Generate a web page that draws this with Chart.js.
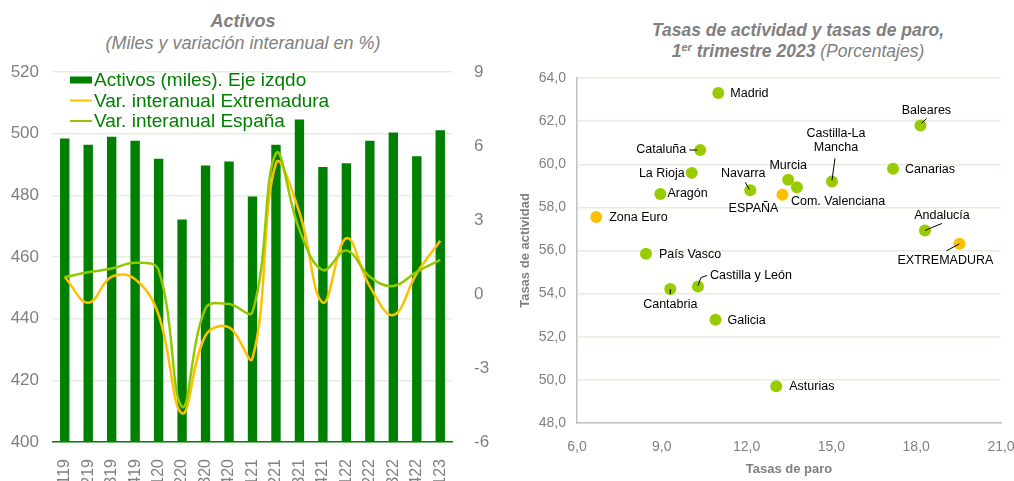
<!DOCTYPE html>
<html>
<head>
<meta charset="utf-8">
<script src="https://cdn.jsdelivr.net/npm/chart.js@4/dist/chart.umd.min.js"></script>
<style>
  html, body { margin: 0; padding: 0; background: #fff; width: 1014px; height: 481px; overflow: hidden; position: relative; font-family: "Liberation Sans", Arial, sans-serif; }
  canvas { position: absolute; top: 0; }
  #leftChart { left: 0; }
  #rightChart { left: 505px; }
  .title { position: absolute; text-align: center; color: #808080; font-style: italic; }
  #leftTitle { left: 0; top: 10px; width: 486px; font-size: 18px; line-height: 22px; }
  #rightTitle { left: 598px; top: 20px; width: 400px; font-size: 17.5px; line-height: 21px; }
  sup { font-size: 11px; line-height: 0; vertical-align: 6px; }
</style>
</head>
<body>
<div class="title" id="leftTitle"><b>Activos</b><br>(Miles y variación interanual en %)</div>
<div class="title" id="rightTitle"><b>Tasas de actividad y tasas de paro,</b><br><b>1<sup>er</sup> trimestre 2023</b> (Porcentajes)</div>
<canvas id="leftChart" width="500" height="481"></canvas>
<canvas id="rightChart" width="530" height="481"></canvas>
<script>
// ---- Activos (left chart) ----
const trimestres = ['T119', 'T219', 'T319', 'T419', 'T120', 'T220', 'T320', 'T420', 'T121',
                    'T221', 'T321', 'T421', 'T122', 'T222', 'T322', 'T422', 'T123'];
const activosMiles = [498.4, 496.4, 499.0, 497.7, 491.9, 472.2, 489.7, 491.0, 479.6,
                      496.4, 504.6, 489.2, 490.4, 497.7, 500.4, 492.7, 501.1];
const varExtremadura = [0.69, -0.35, 0.7, 0.6, -0.85, -4.84, -1.68, -1.35, -2.6,
                        5.3, 3.3, -0.35, 2.26, 0.3, -0.85, 0.84, 2.16];
const varEspana = [0.69, 0.88, 1.03, 1.27, 0.97, -4.57, -0.58, -0.41, -0.72,
                   5.7, 2.6, 0.97, 1.76, 0.7, 0.32, 0.9, 1.38];

// ---- Tasas (right chart) ----
const regiones = ['Madrid', 'Baleares', 'Cataluña', 'Canarias', 'La Rioja', 'Murcia',
                  'Com. Valenciana', 'Castilla-La Mancha', 'Navarra', 'Aragón', 'ESPAÑA',
                  'Zona Euro', 'Andalucía', 'EXTREMADURA', 'País Vasco', 'Castilla y León',
                  'Cantabria', 'Galicia', 'Asturias'];
const tasaParo = [11.0, 18.15, 10.36, 17.18, 10.06, 13.47, 13.78, 15.02, 12.13, 8.95, 13.27,
                  6.68, 18.31, 19.53, 8.44, 10.28, 9.3, 10.9, 13.05];
const tasaActividad = [63.3, 61.8, 60.66, 59.79, 59.6, 59.28, 58.93, 59.2, 58.79, 58.62, 58.59,
                       57.55, 56.93, 56.31, 55.85, 54.33, 54.21, 52.79, 49.7];
const destacados = ['ESPAÑA', 'Zona Euro', 'EXTREMADURA'];

const GRAY = '#808080';
const GRID = '#e3efe0';
const FONT = '"Liberation Sans", Arial, sans-serif';

Chart.defaults.font.family = FONT;

// legend drawn inside the plot area, like the original
const insideLegend = {
    id: 'insideLegend',
    afterDraw(chart) {
        const ctx = chart.ctx;
        const x0 = chart.chartArea.left + 17;
        const y0 = chart.chartArea.top + 8;
        ctx.save();
        ctx.font = '19px ' + FONT;
        ctx.textBaseline = 'middle';
        chart.data.datasets.forEach((ds, i) => {
            const y = y0 + i * 20.5;
            if (ds.type === 'bar') {
                ctx.fillStyle = ds.backgroundColor;
                ctx.fillRect(x0, y - 3.5, 22, 7);
            } else {
                ctx.strokeStyle = ds.borderColor;
                ctx.lineWidth = 2;
                ctx.beginPath();
                ctx.moveTo(x0, y);
                ctx.lineTo(x0 + 22, y);
                ctx.stroke();
            }
            ctx.fillStyle = '#008000';
            ctx.fillText(ds.label, x0 + 24, y + 1);
        });
        ctx.restore();
    }
};

new Chart(document.getElementById('leftChart'), {
    data: {
        labels: trimestres,
        datasets: [
            {
                type: 'bar',
                label: 'Activos (miles). Eje izqdo',
                data: activosMiles,
                backgroundColor: '#008000',
                barPercentage: 0.4,
                categoryPercentage: 1,
                yAxisID: 'y',
                order: 2
            },
            {
                type: 'line',
                label: 'Var. interanual Extremadura',
                data: varExtremadura,
                borderColor: '#ffc000',
                borderWidth: 2.5,
                pointRadius: 0,
                tension: 0.4,
                yAxisID: 'y1',
                order: 1
            },
            {
                type: 'line',
                label: 'Var. interanual España',
                data: varEspana,
                borderColor: '#92c800',
                borderWidth: 2.5,
                pointRadius: 0,
                tension: 0.4,
                yAxisID: 'y1',
                order: 0
            }
        ]
    },
    options: {
        responsive: false,
        animation: false,
        devicePixelRatio: 1,
        layout: { padding: { top: 72, left: 0, right: 0, bottom: 0 } },
        plugins: { legend: { display: false }, tooltip: { enabled: false } },
        scales: {
            x: {
                grid: { display: false },
                border: { color: '#008000', width: 1.5 },
                ticks: {
                    color: GRAY,
                    font: { size: 16 },
                    minRotation: 90,
                    maxRotation: 90,
                    autoSkip: false,
                    padding: 9
                },
                afterFit: s => { s.height = 39; }
            },
            y: {
                position: 'left',
                min: 400,
                max: 520,
                ticks: { stepSize: 20, color: GRAY, font: { size: 17 }, padding: 14 },
                grid: { color: GRID, lineWidth: 1.5, drawTicks: false },
                border: { display: false },
                afterFit: s => { s.width = 53; }
            },
            y1: {
                position: 'right',
                min: -6,
                max: 9,
                ticks: { stepSize: 3, color: GRAY, font: { size: 17 }, padding: 14 },
                grid: { display: false },
                border: { display: false },
                afterFit: s => { s.width = 48; }
            }
        }
    },
    plugins: [insideLegend]
});

// where each region's label sits relative to its point
const etiquetas = {
    'Madrid': { dx: 12, dy: 0, align: 'left' },
    'Baleares': { dx: 6, dy: -15, align: 'center', lead: [[1, -2], [6, -7]] },
    'Cataluña': { dx: -14, dy: 0, align: 'right', lead: [[-11, 0], [-3, 0]] },
    'Canarias': { dx: 12, dy: 0.5, align: 'left' },
    'La Rioja': { dx: -7, dy: 1, align: 'right' },
    'Murcia': { dx: 0, dy: -14, align: 'center' },
    'Com. Valenciana': { dx: -6, dy: 14, align: 'left' },
    'Castilla-La Mancha': { dx: 4, dy: -47.5, align: 'center', lines: ['Castilla-La', 'Mancha'], lead: [[3, -23], [0, -1]] },
    'Navarra': { dx: -7, dy: -17, align: 'center', lead: [[-5, -8], [-1, -1]] },
    'Aragón': { dx: 7, dy: 0, align: 'left' },
    'ESPAÑA': { dx: -29, dy: 14, align: 'center' },
    'Zona Euro': { dx: 13, dy: 0, align: 'left' },
    'Andalucía': { dx: 17, dy: -15, align: 'center', lead: [[0, 0], [17, -7]] },
    'EXTREMADURA': { dx: -14, dy: 17, align: 'center', lead: [[-13, 7], [0, 0]] },
    'País Vasco': { dx: 13, dy: 0.5, align: 'left' },
    'Castilla y León': { dx: 12, dy: -11, align: 'left', lead: [[0, -1], [3, -9], [9, -11]] },
    'Cantabria': { dx: 0, dy: 15, align: 'center', lead: [[0, 0], [0, 5]] },
    'Galicia': { dx: 12, dy: 0.5, align: 'left' },
    'Asturias': { dx: 13, dy: 0, align: 'left' }
};

const pointLabels = {
    id: 'pointLabels',
    afterDatasetsDraw(chart) {
        const ctx = chart.ctx;
        const meta = chart.getDatasetMeta(0);
        ctx.save();
        ctx.font = '12.5px ' + FONT;
        ctx.fillStyle = '#000';
        ctx.strokeStyle = '#000';
        ctx.lineWidth = 1;
        ctx.textBaseline = 'middle';
        meta.data.forEach((pt, i) => {
            const name = regiones[i];
            const e = etiquetas[name];
            if (!e) return;
            if (e.lead) {
                ctx.beginPath();
                e.lead.forEach((p, k) => {
                    if (k === 0) ctx.moveTo(pt.x + p[0], pt.y + p[1]);
                    else ctx.lineTo(pt.x + p[0], pt.y + p[1]);
                });
                ctx.stroke();
            }
            ctx.textAlign = e.align;
            const lines = e.lines || [name];
            lines.forEach((t, k) => {
                ctx.fillText(t, pt.x + e.dx, pt.y + e.dy + k * 13.3);
            });
        });
        ctx.restore();
    }
};

const coma = v => v.toFixed(1).replace('.', ',');

new Chart(document.getElementById('rightChart'), {
    type: 'scatter',
    data: {
        datasets: [{
            label: 'Tasas',
            data: tasaParo.map((x, i) => ({ x: x, y: tasaActividad[i] })),
            pointBackgroundColor: regiones.map(r => destacados.includes(r) ? '#ffc000' : '#99cc00'),
            pointBorderWidth: 0,
            pointRadius: 6
        }]
    },
    options: {
        responsive: false,
        animation: false,
        devicePixelRatio: 1,
        layout: { padding: { top: 78, left: 0, right: 34, bottom: 0 } },
        plugins: { legend: { display: false }, tooltip: { enabled: false } },
        scales: {
            x: {
                type: 'linear',
                min: 6,
                max: 21,
                grid: { display: false },
                border: { color: '#c0c0c0', width: 1.5 },
                ticks: { stepSize: 3, color: GRAY, font: { size: 14 }, padding: 8, callback: coma },
                title: {
                    display: true,
                    text: 'Tasas de paro',
                    color: GRAY,
                    font: { size: 13, weight: 'bold' },
                    padding: { top: 0, bottom: 4 }
                },
                afterFit: s => { s.height = 58; }
            },
            y: {
                min: 48,
                max: 64,
                grid: { color: GRID, lineWidth: 1.5, drawTicks: false },
                border: { color: '#c0c0c0', width: 1.5 },
                ticks: { stepSize: 2, color: GRAY, font: { size: 14 }, padding: 11, callback: coma },
                title: {
                    display: true,
                    text: 'Tasas de actividad',
                    color: GRAY,
                    font: { size: 13, weight: 'bold' },
                    padding: { top: 13, bottom: 0 }
                },
                afterFit: s => { s.width = 72; }
            }
        }
    },
    plugins: [pointLabels]
});
</script>
</body>
</html>
